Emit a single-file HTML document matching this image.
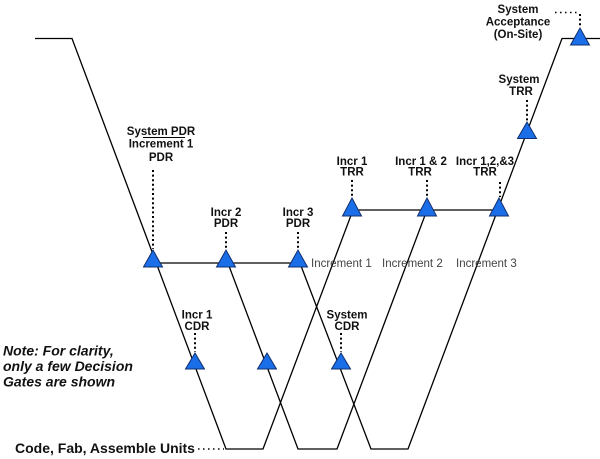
<!DOCTYPE html>
<html>
<head>
<meta charset="utf-8">
<style>
  html,body{margin:0;padding:0;background:#fff;}
  svg{display:block;}
  text{font-family:"Liberation Sans",Arial,sans-serif;}
  .b{font-weight:bold;font-size:11.5px;fill:#111;}
  .inc{font-size:11.5px;fill:#444;}
</style>
</head>
<body>
<svg width="600" height="459" viewBox="0 0 600 459" xmlns="http://www.w3.org/2000/svg">
  <!-- main lines -->
  <g fill="none" stroke="#000" stroke-width="1.3" stroke-linejoin="miter">
    <polyline points="35,38.5 72,38.5 226,449 263,449 353,210"/>
    <polyline points="226,258 298,449 337,449 427,210"/>
    <polyline points="298,258 371,449 408,449 562,38.5 600,38.5"/>
    <line x1="153" y1="263" x2="298" y2="263"/>
    <line x1="352" y1="210" x2="499" y2="210"/>
    <line x1="143" y1="137.5" x2="185" y2="137.5" stroke-width="1"/>
  </g>

  <!-- dotted leaders -->
  <g fill="none" stroke="#000" stroke-width="2" stroke-dasharray="2,2.6">
    <line x1="153" y1="170" x2="153" y2="249"/>
    <line x1="226" y1="232" x2="226" y2="249"/>
    <line x1="298" y1="232" x2="298" y2="249"/>
    <line x1="195" y1="333" x2="195" y2="352"/>
    <line x1="341" y1="333" x2="341" y2="352"/>
    <line x1="352" y1="180" x2="352" y2="197"/>
    <line x1="427" y1="180" x2="427" y2="197"/>
    <line x1="500" y1="182" x2="500" y2="197"/>
    <line x1="527" y1="100" x2="527" y2="121"/>
    <line x1="580" y1="14" x2="580" y2="27"/>
  </g>
  <g fill="none" stroke="#000" stroke-width="1.5" stroke-dasharray="1.5,3.5">
    <line x1="555" y1="12.5" x2="579" y2="12.5"/>
    <line x1="198" y1="449" x2="224" y2="449"/>
  </g>

  <!-- triangles -->
  <g fill="#1a6ee8" stroke="#12306e" stroke-width="1">
    <polygon points="153,250 143.5,267 162.5,267"/>
    <polygon points="226,250 216.5,267 235.5,267"/>
    <polygon points="298,250 288.5,267 307.5,267"/>
    <polygon points="195,353 185.5,369 204.5,369"/>
    <polygon points="267,353 257.5,369 276.5,369"/>
    <polygon points="341,353 331.5,369 350.5,369"/>
    <polygon points="352,198 342.5,216 361.5,216"/>
    <polygon points="427,198 417.5,216 436.5,216"/>
    <polygon points="499,198 489.5,216 508.5,216"/>
    <polygon points="527,122 517.5,138.5 536.5,138.5"/>
    <polygon points="580,28 570.5,45 589.5,45"/>
  </g>

  <!-- labels -->
  <g class="b" text-anchor="middle">
    <text x="161" y="135">System PDR</text>
    <text x="161" y="147.5">Increment 1</text>
    <text x="161" y="161">PDR</text>

    <text x="226" y="216">Incr 2</text>
    <text x="226" y="227">PDR</text>
    <text x="298" y="216">Incr 3</text>
    <text x="298" y="227">PDR</text>

    <text x="197" y="318.5">Incr 1</text>
    <text x="197" y="330">CDR</text>
    <text x="347" y="318.5">System</text>
    <text x="347" y="330">CDR</text>

    <text x="352" y="165">Incr 1</text>
    <text x="352" y="175.5">TRR</text>
    <text x="421" y="165">Incr 1 &amp; 2</text>
    <text x="420" y="175.5">TRR</text>
    <text x="485" y="165">Incr 1,2,&amp;3</text>
    <text x="485" y="175.5">TRR</text>

    <text x="519" y="83">System</text>
    <text x="521" y="95">TRR</text>

    <text x="518" y="13">System</text>
    <text x="518" y="25.5">Acceptance</text>
    <text x="518" y="38">(On-Site)</text>
  </g>

  <g class="inc">
    <text x="311" y="267">Increment 1</text>
    <text x="382" y="267">Increment 2</text>
    <text x="456" y="267">Increment 3</text>
  </g>

  <g font-weight="bold" font-style="italic" font-size="14" fill="#111">
    <text x="3" y="355.5">Note: For clarity,</text>
    <text x="3" y="371">only a few Decision</text>
    <text x="3" y="386.5">Gates are shown</text>
  </g>

  <text x="15" y="453" font-weight="bold" font-size="14" fill="#111">Code, Fab, Assemble Units</text>
</svg>
</body>
</html>
